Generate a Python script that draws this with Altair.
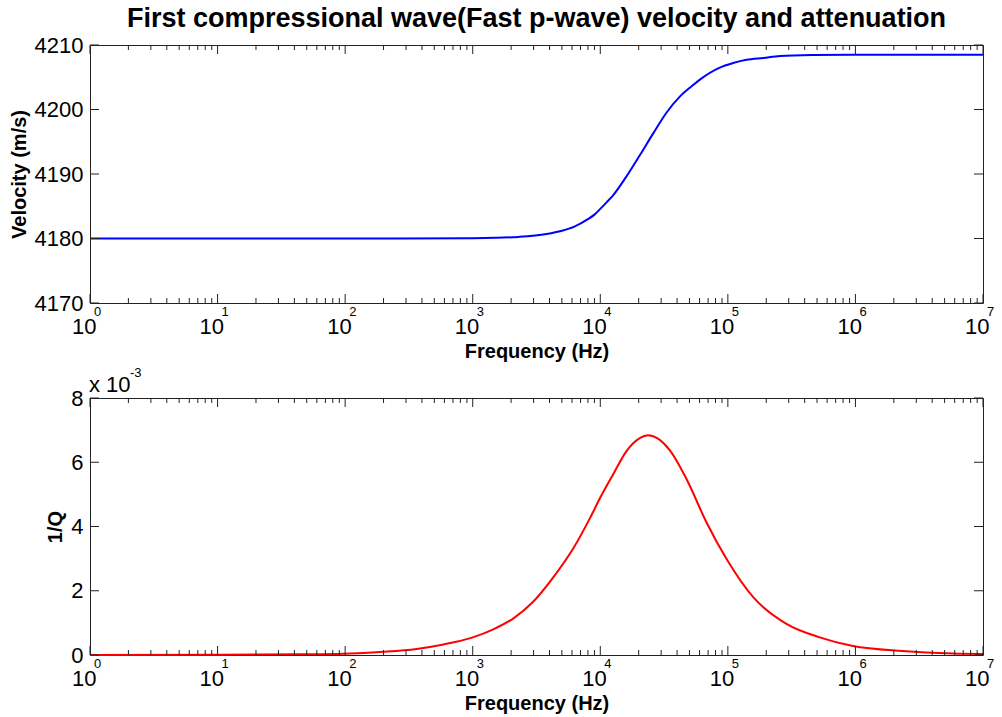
import altair as alt
import pandas as pd

# ---- data ----
vel_freq = [1, 10, 100, 1000, 1500, 2300, 3800, 5000, 6200, 8000, 9000, 10000, 11200,
            12600, 16000, 20400, 26000, 33000, 42000, 52000, 60000, 86500, 110000,
            140000, 190000, 257000, 470000, 1000000, 10000000]
vel_vals = [4180.0, 4180.0, 4180.0, 4180.05, 4180.1, 4180.25, 4180.7, 4181.2, 4181.8,
            4183.0, 4183.7, 4184.6, 4185.6, 4186.7, 4189.6, 4192.9, 4196.3, 4199.5,
            4202.0, 4203.6, 4204.6, 4206.5, 4207.2, 4207.7, 4208.0, 4208.3, 4208.45,
            4208.5, 4208.5]

q_freq = [1, 10, 44, 97, 200, 363, 590, 1000, 1450, 2100, 2950, 4250, 6150, 8300,
          10000, 12600, 16000, 20400, 23700, 35000, 47400, 67600, 98000, 158000,
          288000, 525000, 955000, 2340000, 5900000, 10000000]
q_vals = [0.003, 0.006, 0.02, 0.04, 0.1, 0.19, 0.33, 0.55, 0.8, 1.15, 1.64, 2.4, 3.32,
          4.26, 4.9, 5.62, 6.34, 6.75, 6.84, 6.38, 5.48, 4.15, 2.98, 1.8, 0.97, 0.55,
          0.28, 0.125, 0.05, 0.035]

x_major = [1, 10, 100, 1000, 10000, 100000, 1000000, 10000000]
x_exp = ["0", "1", "2", "3", "4", "5", "6", "7"]
minor_mult = [2, 3, 4, 5, 6, 7, 8, 9]
x_minor = [m * d for d in x_major[:-1] for m in minor_mult]

vel_ticks = [4170, 4180, 4190, 4200, 4210]
q_ticks = [0, 2, 4, 6, 8]

title_text = "First compressional wave(Fast p-wave) velocity and attenuation"
mult_text = ["x 10", "-3"]

W = 893
H1 = 258
H2 = 257
FONT = "Liberation Sans"
TICK = "#222222"

major_df = pd.DataFrame({"f": x_major, "e": x_exp})
minor_df = pd.DataFrame({"f": x_minor})


def panel(freq, vals, ydomain, yticks, ytitle, color, H, ytitle_pad):
    xs = alt.Scale(type="log", domain=[1, 1e7], nice=False)
    ys = alt.Scale(domain=ydomain, nice=False, zero=False)
    xaxis = alt.Axis(
        values=x_major, labelExpr="'10'", ticks=False, tickSize=0, domain=False,
        grid=False, labelFontSize=22, labelAlign="right", labelOffset=6,
        labelBaseline="alphabetic", labelPadding=30, labelFlush=False,
        labelOverlap=False, title="Frequency (Hz)", titleFontSize=20,
        titleFontWeight="bold", titlePadding=4)
    yaxis = alt.Axis(
        values=yticks, format="d", ticks=False, tickSize=0, domain=False, grid=False,
        labelFontSize=22, labelPadding=7, labelFlush=False, labelOverlap=False,
        title=ytitle, titleFontSize=20, titleFontWeight="bold",
        titlePadding=ytitle_pad)
    X = lambda: alt.X("f:Q", scale=xs, axis=xaxis)
    Y = lambda: alt.Y("v:Q", scale=ys, axis=yaxis)
    df = pd.DataFrame({"f": freq, "v": vals})
    line = alt.Chart(df).mark_line(color=color, strokeWidth=2, interpolate="monotone").encode(
        x=X(), y=Y())
    exps = alt.Chart(major_df).mark_text(
        align="left", baseline="alphabetic", fontSize=13, dx=4, font=FONT, color="black"
    ).encode(x=X(), y=alt.value(H + 13), text="e:N")
    bmaj = alt.Chart(major_df).mark_rule(color=TICK, strokeWidth=1).encode(
        x=X(), y=alt.value(H), y2=alt.value(H - 9))
    tmaj = alt.Chart(major_df).mark_rule(color=TICK, strokeWidth=1).encode(
        x=X(), y=alt.value(0), y2=alt.value(9))
    bmin = alt.Chart(minor_df).mark_rule(color=TICK, strokeWidth=1).encode(
        x=X(), y=alt.value(H), y2=alt.value(H - 5))
    tmin = alt.Chart(minor_df).mark_rule(color=TICK, strokeWidth=1).encode(
        x=X(), y=alt.value(0), y2=alt.value(5))
    ytdf = pd.DataFrame({"v": yticks})
    lt = alt.Chart(ytdf).mark_rule(color=TICK, strokeWidth=1).encode(
        y=Y(), x=alt.value(0), x2=alt.value(9))
    rt = alt.Chart(ytdf).mark_rule(color=TICK, strokeWidth=1).encode(
        y=Y(), x=alt.value(W), x2=alt.value(W - 9))
    return [line, bmaj, tmaj, bmin, tmin, lt, rt, exps]


top_layers = panel(vel_freq, vel_vals, [4170, 4210], vel_ticks, "Velocity (m/s)",
                   "#0000ff", H1, 5)
top = alt.layer(*top_layers).properties(
    width=W, height=H1,
    title=alt.TitleParams(title_text, fontSize=27, fontWeight="bold", font=FONT,
                          anchor="middle", frame="group", offset=1, color="black"),
)

bot_layers = panel(q_freq, q_vals, [0, 8], q_ticks, "1/Q", "#ff0000", H2, 5)
mult1 = alt.Chart(pd.DataFrame({"t": [mult_text[0]]})).mark_text(
    align="left", baseline="alphabetic", fontSize=22, font=FONT, color="black"
).encode(x=alt.value(-1), y=alt.value(-6), text="t:N")
mult2 = alt.Chart(pd.DataFrame({"t": [mult_text[1]]})).mark_text(
    align="left", baseline="alphabetic", fontSize=13, font=FONT, color="black"
).encode(x=alt.value(40), y=alt.value(-21), text="t:N")
bot = alt.layer(*bot_layers, mult1, mult2).properties(width=W, height=H2)

chart = alt.vconcat(top, bot, spacing=4).properties(
    padding={"left": 8, "top": 4, "right": 0, "bottom": 0},
    background="white",
).configure(font=FONT).configure_view(
    stroke=TICK, strokeWidth=1
).configure_axis(labelColor="black", titleColor="black")

chart.save("out.html", embed_options={"renderer": "svg", "actions": False})
